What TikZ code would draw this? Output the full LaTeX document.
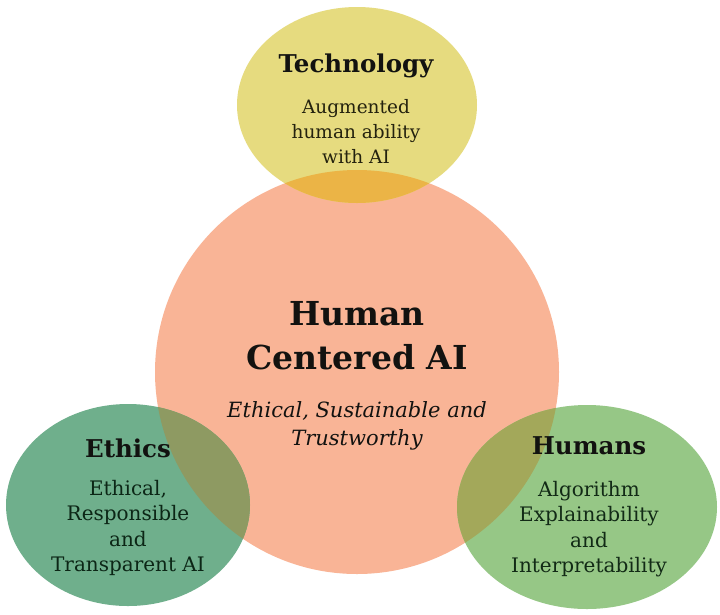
\documentclass[tikz,border=0pt]{standalone}
\usepackage{fontspec}
\setmainfont{DejaVu Serif}
\definecolor{salmon}{HTML}{F9B496}
\definecolor{techcol}{HTML}{E6DB7F}
\definecolor{techov}{HTML}{EBB446}
\definecolor{ethcol}{HTML}{6FAF8C}
\definecolor{ethov}{HTML}{8E9A62}
\definecolor{humcol}{HTML}{96C786}
\definecolor{humov}{HTML}{A3A85A}
\definecolor{inkA}{HTML}{121210}
\definecolor{inkT}{HTML}{24220E}
\definecolor{inkE}{HTML}{0C2616}
\definecolor{inkH}{HTML}{122A16}
\tikzset{
  head/.style={font=\bfseries\fontsize{24.5}{26}\selectfont, text=inkA, inner sep=0pt},
  body/.style={font=\fontsize{18.5}{25}\selectfont, align=center, inner sep=0pt},
  bodyl/.style={font=\fontsize{20}{25.5}\selectfont, align=center, inner sep=0pt},
  big/.style={font=\bfseries\fontsize{33}{44}\selectfont, align=center, text=inkA, inner sep=0pt},
  sub/.style={font=\itshape\fontsize{21}{27.5}\selectfont, align=center, text=inkA, inner sep=0pt}
}
\begin{document}
\begin{tikzpicture}[x=1pt,y=-1pt]
\useasboundingbox (0,0) rectangle (720,614);
\fill[white] (0,0) rectangle (720,614);
% shapes
\fill[salmon] (357,372) circle[radius=202pt];
\fill[techcol] (357,105) ellipse[x radius=120pt, y radius=98pt];
\fill[ethcol] (128,505) ellipse[x radius=122pt, y radius=101pt];
\fill[humcol] (587,507) ellipse[x radius=130pt, y radius=102pt];
\begin{scope}
  \clip (357,372) circle[radius=202pt];
  \fill[techov] (357,105) ellipse[x radius=120pt, y radius=98pt];
  \fill[ethov] (128,505) ellipse[x radius=122pt, y radius=101pt];
  \fill[humov] (587,507) ellipse[x radius=130pt, y radius=102pt];
\end{scope}
% texts
\node[head] (techh) at (356,66) {Technology};
\node[body, text=inkT] (techb) at (356,132) {Augmented\\human ability\\with AI};
\node[big] (hcai) at (357,336) {Human\\Centered AI};
\node[sub] (hcsub) at (357,426) {Ethical, Sustainable and\\Trustworthy};
\node[head] (ethh) at (128,448) {Ethics};
\node[bodyl, text=inkE] (ethb) at (128,528) {Ethical,\\Responsible\\and\\Transparent AI};
\node[head] (humh) at (589,446) {Humans};
\node[bodyl, text=inkH] (humb) at (589,529) {Algorithm\\Explainability\\and\\Interpretability};
\end{tikzpicture}
\end{document}
